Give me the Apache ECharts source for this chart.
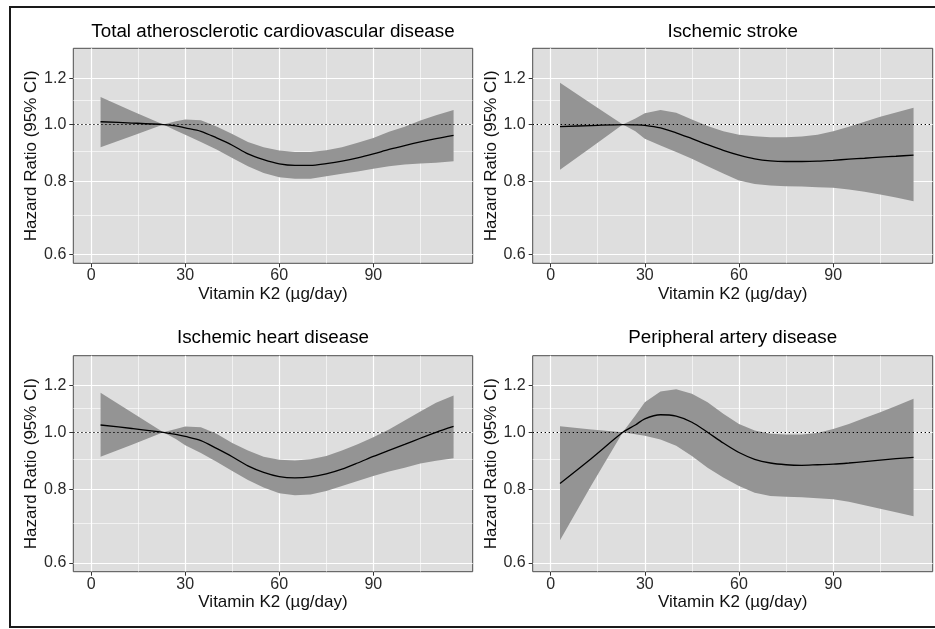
<!DOCTYPE html>
<html>
<head>
<meta charset="utf-8">
<script src="https://cdn.jsdelivr.net/npm/echarts@6/dist/echarts.min.js"></script>
<style>
html,body{margin:0;padding:0;background:#fff;}
#c{width:935px;height:629px;}
</style>
</head>
<body>
<div id="c"></div>
<script>
// ---------- data ----------
const xs = [3, 13, 23, 27, 30, 35, 40, 45, 50, 55, 60, 65, 70, 75, 80, 85, 90, 95, 100, 105, 110, 115.6];

const titles = [
  "Total atherosclerotic cardiovascular disease",
  "Ischemic stroke",
  "Ischemic heart disease",
  "Peripheral artery disease"
];

const ascvdHR = [1.011, 1.006, 1.0, 0.995, 0.987, 0.974, 0.949, 0.922, 0.891, 0.871, 0.857, 0.852, 0.852, 0.858, 0.866, 0.877, 0.891, 0.907, 0.921, 0.934, 0.946, 0.958];
const ascvdLo = [0.915, 0.956, 1.0, 0.977, 0.961, 0.934, 0.907, 0.877, 0.849, 0.827, 0.813, 0.808, 0.808, 0.816, 0.824, 0.832, 0.841, 0.849, 0.855, 0.858, 0.861, 0.866];
const ascvdHi = [1.114, 1.055, 1.0, 1.013, 1.020, 1.017, 0.992, 0.964, 0.934, 0.915, 0.903, 0.898, 0.898, 0.904, 0.915, 0.931, 0.949, 0.972, 0.991, 1.016, 1.037, 1.059];

const strokeHR = [0.992, 0.996, 1.0, 0.999, 0.997, 0.987, 0.968, 0.946, 0.924, 0.904, 0.887, 0.874, 0.867, 0.865, 0.865, 0.866, 0.869, 0.873, 0.876, 0.880, 0.883, 0.887];
const strokeLo = [0.837, 0.915, 1.0, 0.974, 0.946, 0.921, 0.898, 0.874, 0.849, 0.825, 0.803, 0.792, 0.787, 0.785, 0.784, 0.782, 0.780, 0.775, 0.768, 0.760, 0.751, 0.740];
const strokeHi = [1.178, 1.085, 1.0, 1.024, 1.045, 1.059, 1.047, 1.020, 0.994, 0.974, 0.961, 0.955, 0.951, 0.951, 0.954, 0.961, 0.974, 0.991, 1.011, 1.031, 1.048, 1.068];

const ihdHR = [1.029, 1.015, 1.0, 0.992, 0.984, 0.968, 0.939, 0.909, 0.877, 0.855, 0.841, 0.837, 0.840, 0.850, 0.866, 0.887, 0.910, 0.932, 0.954, 0.977, 1.0, 1.023];
const ihdLo = [0.909, 0.953, 1.0, 0.974, 0.951, 0.922, 0.891, 0.860, 0.830, 0.806, 0.788, 0.782, 0.784, 0.795, 0.811, 0.827, 0.843, 0.858, 0.871, 0.885, 0.895, 0.904];
const ihdHi = [1.167, 1.080, 1.0, 1.013, 1.023, 1.020, 0.994, 0.959, 0.931, 0.909, 0.898, 0.896, 0.900, 0.912, 0.931, 0.954, 0.981, 1.011, 1.047, 1.085, 1.122, 1.155];

const padHR = [0.819, 0.903, 1.0, 1.029, 1.054, 1.071, 1.065, 1.040, 1.0, 0.959, 0.924, 0.900, 0.887, 0.881, 0.879, 0.881, 0.883, 0.887, 0.892, 0.897, 0.902, 0.907];
const padLo = [0.656, 0.813, 1.0, 0.992, 0.987, 0.972, 0.949, 0.912, 0.871, 0.838, 0.811, 0.790, 0.780, 0.777, 0.776, 0.773, 0.770, 0.762, 0.752, 0.742, 0.732, 0.720];
const padHi = [1.024, 1.011, 1.0, 1.068, 1.125, 1.173, 1.183, 1.163, 1.125, 1.075, 1.033, 1.007, 0.994, 0.991, 0.991, 0.997, 1.013, 1.033, 1.057, 1.082, 1.108, 1.140];

const xTicks = [0, 30, 60, 90];
const xMinorTicks = [15, 45, 75, 105];
const yTicks = [0.6, 0.8, 1.0, 1.2];
const yMinorTicks = [0.7, 0.9, 1.1];
const refHR = 1.0;
const xName = "Vitamin K2 (µg/day)";
const yName = "Hazard Ratio (95% CI)";

// ---------- layout / style ----------
const ln = Math.log;
const X_MIN = -5.7, X_MAX = 121.7;
const Y_MIN = ln(0.58), Y_MAX = ln(1.349);
const FONT = "'Liberation Sans', Arial, Helvetica, sans-serif";

const panels = [
  { hr: ascvdHR, lo: ascvdLo, hi: ascvdHi },
  { hr: strokeHR, lo: strokeLo, hi: strokeHi },
  { hr: ihdHR, lo: ihdLo, hi: ihdHi },
  { hr: padHR, lo: padLo, hi: padHi }
];

const grids = [
  { left: 73.3, top: 48.3, width: 399.4, height: 215 },
  { left: 532.7, top: 48.3, width: 400, height: 215 },
  { left: 73.3, top: 355.7, width: 399.4, height: 216 },
  { left: 532.7, top: 355.7, width: 400, height: 216 }
];
const titleTops = [22.2, 22.2, 328.8, 328.8];

const xAxes = [], yAxes = [], series = [];
panels.forEach((p, i) => {
  xAxes.push({
    type: 'value', gridIndex: i, min: X_MIN, max: X_MAX,
    name: xName, nameLocation: 'middle', nameGap: 22.5,
    nameTextStyle: { fontSize: 17, color: '#111', fontFamily: FONT },
    axisLine: { show: false, onZero: false },
    axisTick: { show: true, customValues: xTicks, length: 4, lineStyle: { color: '#333', width: 1 } },
    axisLabel: { customValues: xTicks, fontSize: 16, color: '#2a2a2a', margin: 4.5, fontFamily: FONT },
    splitLine: { show: true, lineStyle: { color: '#ffffff', width: 1.2 } }
  });
  xAxes.push({
    type: 'value', gridIndex: i, min: X_MIN, max: X_MAX, position: 'bottom',
    axisLine: { show: false, onZero: false },
    axisTick: { show: false, customValues: xMinorTicks },
    axisLabel: { show: false },
    splitLine: { show: true, lineStyle: { color: '#ffffff', width: 0.6 } }
  });
  const yMajor = yTicks.map(v => ln(v));
  yAxes.push({
    type: 'value', gridIndex: i, min: Y_MIN, max: Y_MAX,
    name: yName, nameLocation: 'middle', nameGap: 30.5, nameRotate: 90,
    nameTextStyle: { fontSize: 17, color: '#111', fontFamily: FONT },
    axisLine: { show: false, onZero: false },
    axisTick: { show: true, customValues: yMajor, length: 4, lineStyle: { color: '#333', width: 1 } },
    axisLabel: { customValues: yMajor, fontSize: 16, color: '#2a2a2a', margin: 7, fontFamily: FONT,
                 formatter: v => Math.exp(v).toFixed(1) },
    splitLine: { show: true, lineStyle: { color: '#ffffff', width: 1.2 } }
  });
  yAxes.push({
    type: 'value', gridIndex: i, min: Y_MIN, max: Y_MAX, position: 'left',
    axisLine: { show: false, onZero: false },
    axisTick: { show: false, customValues: yMinorTicks.map(v => ln(v)) },
    axisLabel: { show: false },
    splitLine: { show: true, lineStyle: { color: '#ffffff', width: 0.6 } }
  });

  // confidence band
  series.push({
    type: 'custom', xAxisIndex: 2 * i, yAxisIndex: 2 * i, silent: true, z: 2,
    data: xs.map((x, j) => [x, ln(p.lo[j]), ln(p.hi[j])]),
    encode: { x: 0, y: [1, 2] },
    renderItem: (params, api) => {
      if (params.dataIndex !== 0) return null;
      const up = [], dn = [];
      for (let j = 0; j < xs.length; j++) {
        up.push(api.coord([xs[j], ln(p.hi[j])]));
        dn.push(api.coord([xs[j], ln(p.lo[j])]));
      }
      return {
        type: 'polygon',
        shape: { points: up.concat(dn.reverse()) },
        style: { fill: '#949494', stroke: null }
      };
    }
  });
  // hazard ratio line + reference
  series.push({
    type: 'line', xAxisIndex: 2 * i, yAxisIndex: 2 * i, silent: true, z: 3,
    data: xs.map((x, j) => [x, ln(p.hr[j])]),
    showSymbol: false, symbol: 'none', smooth: 0.3,
    lineStyle: { color: '#000', width: 1.3 },
    emphasis: { disabled: true },
    markLine: {
      silent: true, symbol: ['none', 'none'], label: { show: false },
      lineStyle: { color: '#000', type: [1.3, 2.7], width: 1.2 },
      emphasis: { disabled: true },
      data: [{ yAxis: ln(refHR) }]
    }
  });
});

const option = {
  animation: false,
  backgroundColor: '#ffffff',
  textStyle: { fontFamily: FONT },
  title: titles.map((t, i) => ({
    text: t,
    left: grids[i].left + grids[i].width / 2,
    top: titleTops[i],
    textAlign: 'center',
    padding: 0,
    textStyle: { fontSize: 18.8, fontWeight: 'normal', color: '#000', fontFamily: FONT }
  })),
  grid: grids.map(g => Object.assign({}, g, {
    show: true, backgroundColor: '#dedede', borderColor: '#4d4d4d', borderWidth: 1, containLabel: false
  })),
  xAxis: xAxes,
  yAxis: yAxes,
  series: series,
  graphic: [{
    type: 'rect', silent: true, z: 100,
    shape: { x: 10, y: 7, width: 935, height: 620 },
    style: { fill: 'none', stroke: '#1a1a1a', lineWidth: 2 }
  }]
};

const chart = echarts.init(document.getElementById('c'), null, { renderer: 'canvas' });
chart.setOption(option);
</script>
</body>
</html>
